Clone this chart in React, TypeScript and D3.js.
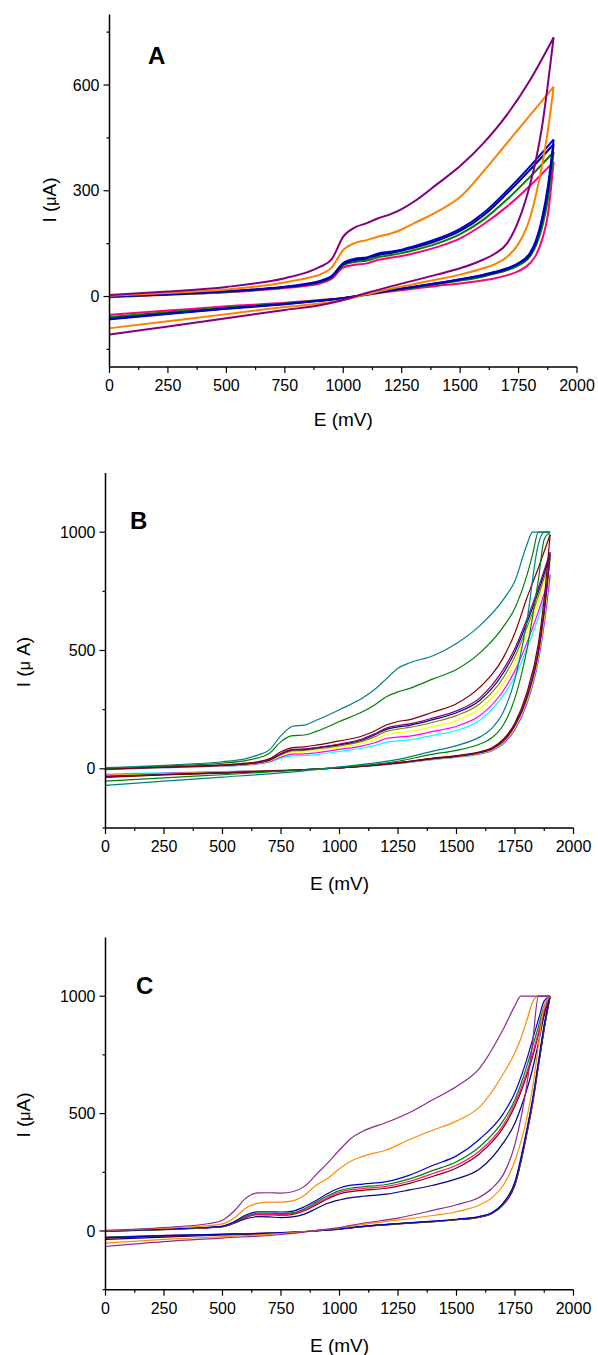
import React from "react";
import * as d3 from "d3";

// ---------------- Panel A data ----------------
const fwdE_A = [0, 250, 500, 750, 850, 900, 950, 1000, 1050, 1100, 1150, 1200, 1250, 1300, 1400, 1500, 1600, 1700, 1800, 1900];
const revE_A = [0, 250, 500, 750, 900, 1000, 1100, 1200, 1300, 1400, 1500, 1600, 1650, 1700, 1750, 1800, 1825, 1850, 1875, 1900];

const aPinkFwd = [-2, 5, 12, 24, 31, 37, 50, 82, 90, 94, 104, 110, 115, 122, 140, 165, 205, 255, 315, 382];
const aGreenFwd = [0, 6, 13, 26, 34, 40, 54, 88, 98, 102, 112, 117, 123, 131, 150, 177, 218, 275, 340, 410];
const aNavyFwd = [0, 6, 14, 27, 35, 42, 56, 92, 103, 108, 118, 123, 130, 138, 158, 186, 230, 292, 360, 432];
const aBlueFwd = [1, 7, 15, 28, 37, 44, 58, 95, 107, 111, 122, 127, 133, 142, 163, 192, 237, 300, 370, 445];
const aOrangeFwd = [2, 10, 20, 40, 53, 62, 82, 132, 152, 160, 170, 178, 190, 207, 240, 282, 355, 435, 515, 595];
const aPurpleFwd = [4, 14, 27, 52, 70, 84, 105, 170, 196, 208, 222, 233, 248, 268, 318, 370, 435, 515, 615, 735];

const aPinkRev = [-52, -40, -28, -18, -10, -4, 5, 14, 22, 30, 37, 46, 52, 60, 72, 95, 118, 160, 230, 382];
const aGreenRev = [-58, -45, -32, -20, -11, -5, 5, 16, 25, 35, 45, 57, 65, 74, 88, 115, 145, 195, 275, 410];
const aNavyRev = [-63, -48, -34, -21, -12, -5, 6, 17, 27, 37, 48, 60, 68, 78, 93, 120, 155, 212, 300, 432];
const aBlueRev = [-65, -50, -35, -22, -12, -5, 6, 18, 28, 38, 49, 62, 70, 80, 95, 125, 160, 220, 310, 445];
const aOrangeRev = [-90, -70, -50, -30, -20, -10, 6, 22, 35, 48, 62, 80, 92, 112, 150, 225, 290, 370, 470, 595];
const aPurpleRev = [-108, -85, -62, -38, -25, -10, 10, 28, 45, 62, 80, 105, 122, 150, 215, 320, 390, 480, 600, 735];

const aColors = ["#ff0080", "#008000", "#000080", "#0000cc", "#ff8000", "#800080"];

// ---------------- Panel B data ----------------
const fwdE_B = [0, 250, 500, 600, 650, 700, 750, 800, 850, 900, 1000, 1100, 1150, 1200, 1250, 1300, 1400, 1500, 1600, 1700, 1750, 1800, 1825, 1850, 1900];
const revE_B = [0, 250, 500, 750, 900, 1000, 1250, 1400, 1500, 1600, 1650, 1700, 1750, 1800, 1850, 1875, 1900];

const bCyanFwd = [-3, 5, 11, 16, 20, 28, 45, 55, 56, 60, 74, 88, 98, 112, 118, 122, 142, 162, 205, 310, 390, 505, 570, 640, 810];
const bMagentaFwd = [-2, 5, 12, 17, 22, 30, 50, 62, 63, 68, 82, 97, 110, 128, 134, 138, 158, 180, 225, 330, 415, 530, 595, 665, 820];
const bYellowFwd = [-2, 6, 13, 19, 24, 33, 56, 70, 72, 78, 90, 108, 124, 145, 153, 158, 178, 205, 255, 360, 450, 570, 635, 705, 870];
const bOliveFwd = [-1, 6, 14, 20, 25, 35, 60, 76, 78, 84, 97, 117, 135, 158, 168, 175, 197, 225, 275, 385, 475, 595, 660, 730, 890];
const bNavyFwd = [-1, 7, 15, 21, 26, 37, 63, 80, 82, 88, 102, 123, 143, 167, 177, 184, 208, 237, 290, 405, 495, 615, 680, 750, 905];
const bPurpleFwd = [-1, 7, 15, 21, 27, 38, 65, 82, 84, 90, 105, 127, 148, 172, 183, 190, 215, 245, 300, 420, 510, 630, 695, 765, 915];
const bMaroonFwd = [0, 8, 17, 24, 30, 42, 72, 90, 93, 100, 118, 140, 160, 185, 200, 208, 240, 275, 345, 470, 575, 720, 785, 850, 990];
const bGreenFwd = [3, 12, 24, 35, 46, 65, 115, 140, 143, 158, 200, 242, 270, 305, 325, 340, 380, 420, 490, 600, 680, 815, 905, 1000, 1000];
const bTealFwd = [5, 15, 30, 43, 58, 80, 140, 180, 185, 205, 250, 300, 335, 380, 425, 448, 478, 530, 605, 715, 795, 945, 1000, 1000, 1000];

const bCyanRev = [-22, -17, -12, -6, -1, 4, 22, 39, 48, 62, 75, 105, 165, 270, 455, 610, 810];
const bMagentaRev = [-25, -19, -13, -6, -1, 4, 23, 40, 50, 64, 77, 108, 168, 275, 460, 615, 820];
const bYellowRev = [-28, -21, -14, -7, -1, 4, 24, 41, 51, 66, 80, 112, 175, 285, 475, 640, 870];
const bOliveRev = [-30, -22, -15, -7, -1, 4, 24, 42, 52, 67, 82, 115, 180, 292, 485, 655, 890];
const bNavyRev = [-33, -24, -17, -8, -1, 4, 25, 43, 53, 69, 84, 118, 185, 300, 495, 670, 905];
const bPurpleRev = [-34, -25, -17, -8, -1, 4, 25, 44, 54, 70, 85, 120, 188, 305, 505, 680, 915];
const bMaroonRev = [-36, -26, -18, -9, -1, 4, 26, 45, 56, 72, 88, 125, 195, 320, 530, 720, 990];
const bGreenRev = [-52, -38, -25, -10, -1, 6, 32, 62, 78, 105, 130, 185, 300, 500, 800, 970, 1000];
const bTealRev = [-70, -52, -35, -17, -3, 8, 40, 75, 98, 135, 170, 240, 380, 620, 950, 1000, 1000];

const bColors = ["#00ffff", "#ff00ff", "#ffff00", "#808000", "#000080", "#800080", "#800000", "#008000", "#008080"];

// ---------------- Panel C data ----------------
const fwdE_C = [0, 250, 450, 500, 550, 600, 650, 700, 750, 800, 850, 900, 950, 1000, 1050, 1100, 1200, 1300, 1400, 1500, 1600, 1700, 1750, 1775, 1800, 1825, 1850, 1875, 1900];
const revE_C = [0, 250, 500, 750, 900, 1000, 1100, 1250, 1400, 1500, 1600, 1650, 1700, 1750, 1800, 1825, 1850, 1875, 1900];

const cNavyFwd = [-2, 6, 14, 18, 33, 52, 61, 60, 57, 60, 72, 95, 118, 132, 142, 148, 157, 175, 195, 222, 265, 375, 460, 525, 600, 690, 800, 920, 1000];
const cMaroonFwd = [-1, 7, 15, 19, 35, 58, 70, 69, 67, 71, 86, 111, 137, 158, 168, 173, 182, 203, 233, 268, 330, 440, 532, 592, 662, 742, 835, 930, 1000];
const cPinkFwd = [0, 7, 15, 19, 36, 60, 72, 72, 70, 74, 90, 116, 143, 165, 176, 181, 190, 212, 245, 280, 342, 452, 545, 605, 675, 755, 845, 940, 1000];
const cGreenFwd = [0, 7, 16, 20, 38, 63, 76, 76, 74, 78, 95, 122, 150, 172, 183, 188, 198, 222, 258, 295, 360, 470, 560, 625, 700, 785, 870, 960, 1000];
const cBlueFwd = [0, 8, 17, 21, 40, 68, 82, 82, 81, 85, 103, 130, 160, 183, 195, 200, 210, 238, 280, 320, 392, 500, 590, 655, 730, 815, 900, 980, 1000];
const cOrangeFwd = [2, 12, 24, 30, 55, 98, 118, 123, 123, 128, 152, 195, 225, 265, 298, 318, 345, 390, 430, 468, 530, 670, 760, 820, 895, 975, 1000, 1000, 1000];
const cPurpleFwd = [3, 15, 33, 46, 85, 140, 162, 163, 161, 167, 190, 240, 290, 345, 395, 425, 462, 505, 560, 615, 695, 860, 960, 1000, 1000, 1000, 1000, 1000, 1000];

const cNavyRev = [-36, -26, -17, -9, 0, 8, 19, 30, 40, 48, 59, 74, 112, 196, 410, 540, 700, 860, 1000];
const cMaroonRev = [-30, -22, -15, -8, 1, 9, 19, 30, 40, 48, 59, 75, 114, 200, 415, 545, 705, 865, 1000];
const cPinkRev = [-26, -19, -13, -7, 1, 9, 19, 31, 41, 49, 60, 76, 116, 204, 420, 550, 710, 870, 1000];
const cGreenRev = [-27, -20, -14, -7, 1, 9, 20, 31, 41, 49, 61, 77, 118, 207, 425, 555, 715, 875, 1000];
const cBlueRev = [-28, -20, -14, -7, 1, 9, 20, 32, 42, 50, 62, 78, 120, 210, 430, 560, 720, 880, 1000];
const cOrangeRev = [-52, -36, -24, -11, 2, 13, 28, 47, 66, 82, 112, 140, 195, 300, 480, 610, 790, 960, 1000];
const cPurpleRev = [-66, -45, -30, -15, 2, 15, 33, 55, 88, 112, 145, 180, 240, 370, 620, 800, 1000, 1000, 1000];

const cColors = ["#000080", "#800000", "#ff1080", "#008000", "#0000cc", "#ff8c00", "#8e2a8e"];

// ---------------- Axis ticks ----------------
const xTicks = [0, 250, 500, 750, 1000, 1250, 1500, 1750, 2000];
const xMinor = [125, 375, 625, 875, 1125, 1375, 1625, 1875];
const yTicksA = [0, 300, 600];
const yMinorA = [-150, 150, 450, 750];
const yTicksBC = [0, 500, 1000];
const yMinorBC = [-250, 250, 750];

type Series = { color: string; fwd: number[]; rev: number[] };

const seriesA: Series[] = [
  { color: aColors[0], fwd: aPinkFwd, rev: aPinkRev },
  { color: aColors[1], fwd: aGreenFwd, rev: aGreenRev },
  { color: aColors[2], fwd: aNavyFwd, rev: aNavyRev },
  { color: aColors[3], fwd: aBlueFwd, rev: aBlueRev },
  { color: aColors[4], fwd: aOrangeFwd, rev: aOrangeRev },
  { color: aColors[5], fwd: aPurpleFwd, rev: aPurpleRev },
];
const seriesB: Series[] = [
  { color: bColors[0], fwd: bCyanFwd, rev: bCyanRev },
  { color: bColors[1], fwd: bMagentaFwd, rev: bMagentaRev },
  { color: bColors[2], fwd: bYellowFwd, rev: bYellowRev },
  { color: bColors[3], fwd: bOliveFwd, rev: bOliveRev },
  { color: bColors[4], fwd: bNavyFwd, rev: bNavyRev },
  { color: bColors[5], fwd: bPurpleFwd, rev: bPurpleRev },
  { color: bColors[6], fwd: bMaroonFwd, rev: bMaroonRev },
  { color: bColors[7], fwd: bGreenFwd, rev: bGreenRev },
  { color: bColors[8], fwd: bTealFwd, rev: bTealRev },
];
const seriesC: Series[] = [
  { color: cColors[0], fwd: cNavyFwd, rev: cNavyRev },
  { color: cColors[1], fwd: cMaroonFwd, rev: cMaroonRev },
  { color: cColors[2], fwd: cPinkFwd, rev: cPinkRev },
  { color: cColors[3], fwd: cGreenFwd, rev: cGreenRev },
  { color: cColors[4], fwd: cBlueFwd, rev: cBlueRev },
  { color: cColors[5], fwd: cOrangeFwd, rev: cOrangeRev },
  { color: cColors[6], fwd: cPurpleFwd, rev: cPurpleRev },
];

const FONT = "'Liberation Sans', Arial, Helvetica, sans-serif";

type PanelCfg = {
  letter: string;
  letterX: number;
  letterY: number;
  x0: number;
  x1: number;
  yDomain: [number, number];
  yBottom: number;
  yTop: number;
  yTicks: number[];
  yMinor: number[];
  fwdE: number[];
  revE: number[];
  series: Series[];
  strokeWidth: number;
  yTitleX: number;
  yTitleY: number;
  yTitleSpace: boolean;
  xTitleY: number;
};

function Panel({ cfg }: { cfg: PanelCfg }) {
  const x = d3.scaleLinear().domain([0, 2000]).range([cfg.x0, cfg.x1]);
  const y = d3.scaleLinear().domain(cfg.yDomain).range([cfg.yBottom, cfg.yTop]);
  const line = d3
    .line<[number, number]>()
    .x((d) => x(d[0]))
    .y((d) => y(d[1]))
    .curve(d3.curveMonotoneX);
  const axisY = cfg.yBottom;
  const axisX = cfg.x0;
  return (
    <g>
      {cfg.series.map((s, i) => (
        <g key={i} fill="none" stroke={s.color} strokeWidth={cfg.strokeWidth} strokeLinejoin="round">
          <path d={line(cfg.fwdE.map((e, k) => [e, s.fwd[k]] as [number, number])) || ""} />
          <path d={line(cfg.revE.map((e, k) => [e, s.rev[k]] as [number, number])) || ""} />
        </g>
      ))}
      <line x1={axisX} x2={axisX} y1={cfg.yTop} y2={axisY} stroke="#000" strokeWidth={1.5} />
      <line x1={axisX} x2={cfg.x1} y1={axisY} y2={axisY} stroke="#000" strokeWidth={1.5} />
      {cfg.yTicks.map((t) => (
        <g key={"yt" + t}>
          <line x1={axisX - 6} x2={axisX} y1={y(t)} y2={y(t)} stroke="#000" strokeWidth={1.2} />
          <text x={axisX - 10} y={y(t) + 5.5} textAnchor="end" fontSize={16} fontFamily={FONT}>
            {t}
          </text>
        </g>
      ))}
      {cfg.yMinor.map((t) => (
        <line key={"ym" + t} x1={axisX - 3} x2={axisX} y1={y(t)} y2={y(t)} stroke="#000" strokeWidth={1.2} />
      ))}
      {xTicks.map((t) => (
        <g key={"xt" + t}>
          <line x1={x(t)} x2={x(t)} y1={axisY} y2={axisY + 6} stroke="#000" strokeWidth={1.2} />
          <text x={x(t)} y={axisY + 24} textAnchor="middle" fontSize={16} fontFamily={FONT}>
            {t}
          </text>
        </g>
      ))}
      {xMinor.map((t) => (
        <line key={"xm" + t} x1={x(t)} x2={x(t)} y1={axisY} y2={axisY + 3} stroke="#000" strokeWidth={1.2} />
      ))}
      <text x={(cfg.x0 + cfg.x1) / 2} y={cfg.xTitleY} textAnchor="middle" fontSize={19} fontFamily={FONT}>
        E (mV)
      </text>
      <text
        transform={`translate(${cfg.yTitleX},${cfg.yTitleY}) rotate(-90)`}
        textAnchor="middle"
        fontSize={19}
        fontFamily={FONT}
      >
        I (<tspan fontSize={16}>μ</tspan>
        {cfg.yTitleSpace ? " A)" : "A)"}
      </text>
      <text x={cfg.letterX} y={cfg.letterY} fontSize={24} fontWeight="bold" fontFamily={FONT}>
        {cfg.letter}
      </text>
    </g>
  );
}

const panels: PanelCfg[] = [
  {
    letter: "A",
    letterX: 148,
    letterY: 64,
    x0: 109.5,
    x1: 577,
    yDomain: [-200, 800],
    yBottom: 367,
    yTop: 14.5,
    yTicks: yTicksA,
    yMinor: yMinorA,
    fwdE: fwdE_A,
    revE: revE_A,
    series: seriesA,
    strokeWidth: 2,
    yTitleX: 56,
    yTitleY: 200,
    yTitleSpace: false,
    xTitleY: 426,
  },
  {
    letter: "B",
    letterX: 130,
    letterY: 529,
    x0: 105.5,
    x1: 573.5,
    yDomain: [-250, 1250],
    yBottom: 828,
    yTop: 473,
    yTicks: yTicksBC,
    yMinor: yMinorBC,
    fwdE: fwdE_B,
    revE: revE_B,
    series: seriesB,
    strokeWidth: 1.2,
    yTitleX: 30,
    yTitleY: 662,
    yTitleSpace: true,
    xTitleY: 890,
  },
  {
    letter: "C",
    letterX: 136,
    letterY: 994,
    x0: 105.5,
    x1: 573.5,
    yDomain: [-250, 1250],
    yBottom: 1289.7,
    yTop: 937.5,
    yTicks: yTicksBC,
    yMinor: yMinorBC,
    fwdE: fwdE_C,
    revE: revE_C,
    series: seriesC,
    strokeWidth: 1.2,
    yTitleX: 30,
    yTitleY: 1115,
    yTitleSpace: false,
    xTitleY: 1352,
  },
];

export default function App() {
  return (
    <svg
      width={598}
      height={1355}
      viewBox="0 0 598 1355"
      style={{ position: "absolute", left: 0, top: 0, background: "#fff" }}
    >
      <rect x={0} y={0} width={598} height={1355} fill="#fff" />
      {panels.map((p) => (
        <Panel key={p.letter} cfg={p} />
      ))}
    </svg>
  );
}
